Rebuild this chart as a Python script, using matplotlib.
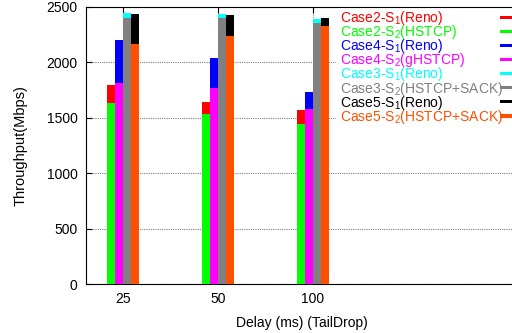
import matplotlib
matplotlib.use("Agg")
import matplotlib.pyplot as plt
import numpy as np
from matplotlib.patches import Rectangle

plt.rcParams['font.family'] = ['Liberation Sans', 'DejaVu Sans']
plt.rcParams['mathtext.default'] = 'regular'

# Werte (Mbps)
delays = ["25", "50", "100"]
case2S1 = [162, 109, 126]
case2S2 = [1634, 1534, 1444]
case4S1 = [388, 271, 154]
case4S2 = [1814, 1769, 1579]
case3S1 = [42, 36, 36]
case3S2 = [2401, 2401, 2356]
case5S1 = [268, 190, 72]
case5S2 = [2169, 2238, 2329]

labels = ["Case2-S$_1$(Reno)", "Case2-S$_2$(HSTCP)",
          "Case4-S$_1$(Reno)", "Case4-S$_2$(gHSTCP)",
          "Case3-S$_1$(Reno)", "Case3-S$_2$(HSTCP+SACK)",
          "Case5-S$_1$(Reno)", "Case5-S$_2$(HSTCP+SACK)"]
colors = ["#ff0000", "#00ff00", "#0000ff", "#ff00ff",
          "#00ffff", "#808080", "#000000", "#ff5000"]

W, H = 512, 333
fig = plt.figure(figsize=(W / 100, H / 100), dpi=100)
ax = fig.add_axes([86 / W, 49 / H, 1 - 86 / W + 0.01, 277 / H])

x = np.arange(len(delays))
width = 0.083
stacks = [(case2S2, case2S1), (case4S2, case4S1), (case3S2, case3S1), (case5S2, case5S1)]
for i, (s2, s1) in enumerate(stacks):
    pos = x + (i - 1.5) * width
    ax.bar(pos, s2, width, color=colors[2 * i + 1], zorder=3)
    ax.bar(pos, s1, width, bottom=s2, color=colors[2 * i], zorder=3)

ax.set_xlim(-0.39, 4.15)
ax.set_ylim(0, 2500)
ax.set_xticks(x)
ax.set_xticklabels(delays)
ax.set_yticks(range(0, 2501, 500))
ax.tick_params(direction="in", top=True, right=False, labelsize=10, length=4, pad=6)
ax.grid(True, color="#808080", linestyle=(0, (1, 1)), linewidth=0.8, zorder=0)
ax.set_axisbelow(True)
ax.spines["right"].set_visible(False)

ax.set_xlabel("Delay (ms) (TailDrop)", fontsize=10, labelpad=7)
fig.text(21 / W, 1 - 146 / H, "Throughput(Mbps)", rotation=90, fontsize=10.5,
         ha="center", va="center")

# Legende von Hand: Text links, kurze Balken am rechten Rand, weisser Hintergrund
def px(xp, yp):
    return xp / W, 1 - yp / H

bx, by = px(336, 123)
ax.add_patch(Rectangle((bx, by), 1 - bx, (123 - 8) / H, transform=fig.transFigure,
                       facecolor="white", edgecolor="none", zorder=2))
for i, (lab, c) in enumerate(zip(labels, colors)):
    base = 22 + 14.1 * i
    tx, ty = px(340, base)
    ax.text(tx, ty, lab, color=c, fontsize=10, ha="left", va="baseline",
            transform=fig.transFigure, zorder=5)
    sx, sy = px(500, base - 3.2)
    ax.add_patch(Rectangle((sx, sy), 14 / W, 3.2 / H, transform=fig.transFigure,
                           facecolor=c, edgecolor="none", zorder=5, clip_on=False))

fig.savefig("out.png", dpi=100)
